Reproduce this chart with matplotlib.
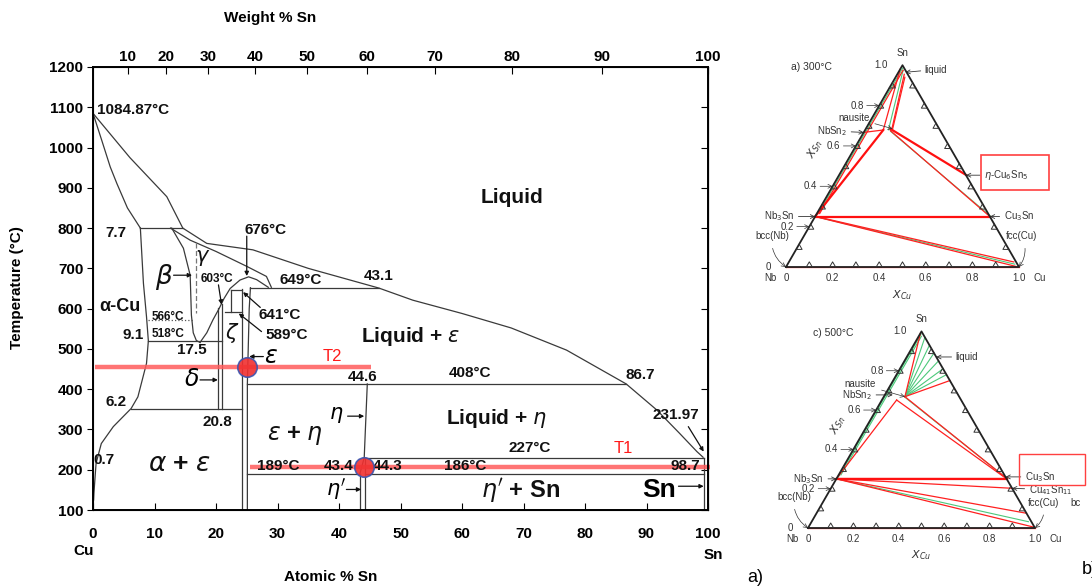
import numpy as np
import matplotlib.pyplot as plt

plt.rcParams['font.family'] = ['Liberation Sans', 'DejaVu Sans']

# ---------------- Cu-Sn phase diagram data (atomic % Sn, temperature in C) ----------------
at_ticks = [0, 10, 20, 30, 40, 50, 60, 70, 80, 90, 100]
temp_ticks = [100, 200, 300, 400, 500, 600, 700, 800, 900, 1000, 1100, 1200]
weight_ticks = [10, 20, 30, 40, 50, 60, 70, 80, 90, 100]

liquidus = [(0, 1085), (6, 975), (12, 878), (14.6, 800), (18.5, 762), (26, 746), (35, 700),
            (46.5, 651), (52, 621), (60, 588), (68, 552), (77, 497), (86.7, 413),
            (91.7, 348), (95.4, 290), (98.2, 245), (99.2, 231)]
alpha_solidus = [(0, 1085), (1.4, 1019), (2.8, 952), (3.9, 910), (5.6, 850), (7.7, 800)]
alpha_solvus = [(7.7, 800), (8.2, 663), (8.7, 580), (9.0, 520), (8.7, 464), (7.3, 381),
                (6.2, 352), (3.3, 307), (1.35, 265), (0.5, 216), (0.15, 142), (0.1, 125)]
beta_left = [(12.8, 800), (14.7, 750), (15.8, 683), (16.0, 584), (16.3, 540), (16.8, 521),
             (17.4, 516)]
gamma_dome = [(17.4, 516), (18.5, 540), (19.5, 572), (20.5, 600), (21.3, 625), (22.3, 650),
              (23.9, 671), (25.3, 679), (26.6, 672), (28.5, 653)]
gamma_solidus = [(12.6, 800), (15.8, 770), (20, 742), (25, 705), (28.2, 680), (29.0, 653)]
beta_gamma_dashed = [(16.7, 762), (16.7, 590)]
line_566_dotted = [(9.0, 572), (16.3, 572)]
epsilon_right = [(25.1, 100), (25.1, 413), (25.4, 600), (25.6, 652)]
eta_upper = [(44.6, 413), (44.1, 230), (43.4, 190)]

# horizontal lines (T, x_start, x_end)
isotherms = [(800, 7.7, 14.6), (520, 9.0, 20.9), (350, 6.2, 24.3), (413, 25.1, 86.7),
             (652, 25.6, 46.5), (646, 22.5, 24.3), (592, 21.5, 24.3), (230, 44.3, 99.4),
             (190, 25.1, 43.4), (190, 44.3, 99.4)]
# vertical lines (x, T_start, T_end)
verticals = [(20.4, 350, 601), (20.9, 350, 612), (22.5, 592, 646), (24.3, 100, 648),
             (43.4, 100, 190), (44.3, 100, 230), (99.4, 100, 230)]

# red marker lines / points
t2_line = (455, 0.3, 45.2)
t1_line = (207, 25.5, 100.3)
red_points_x = [25.0, 44.0]
red_points_t = [455, 207]

# labels: (x, T, text, size, style, ha)
number_labels = [
    (0.6, 1093, '1084.87°C', 11, 'normal', 'left'),
    (3.8, 788, '7.7', 11, 'normal', 'center'),
    (28.0, 795, '676°C', 11, 'normal', 'center'),
    (33.7, 671, '649°C', 11, 'normal', 'center'),
    (46.5, 681, '43.1', 11, 'normal', 'center'),
    (20.1, 673, '603°C', 8.5, 'normal', 'center'),
    (9.5, 580, '566°C', 8.5, 'normal', 'left'),
    (9.5, 537, '518°C', 8.5, 'normal', 'left'),
    (26.9, 584, '641°C', 11, 'normal', 'left'),
    (28.0, 535, '589°C', 11, 'normal', 'left'),
    (8.3, 535, '9.1', 11, 'normal', 'right'),
    (16.1, 497, '17.5', 11, 'normal', 'center'),
    (43.8, 431, '44.6', 11, 'normal', 'center'),
    (61.3, 439, '408°C', 11, 'normal', 'center'),
    (89.0, 435, '86.7', 11, 'normal', 'center'),
    (3.8, 369, '6.2', 11, 'normal', 'center'),
    (94.7, 336, '231.97', 11, 'normal', 'center'),
    (20.3, 319, '20.8', 11, 'normal', 'center'),
    (71.0, 253, '227°C', 11, 'normal', 'center'),
    (0.0, 224, '0.7', 11, 'normal', 'left'),
    (30.2, 209, '189°C', 11, 'normal', 'center'),
    (39.9, 209, '43.4', 11, 'normal', 'center'),
    (47.9, 209, '44.3', 11, 'normal', 'center'),
    (60.5, 209, '186°C', 11, 'normal', 'center'),
    (96.3, 209, '98.7', 11, 'normal', 'center'),
]
phase_labels = [
    (68.1, 877, 'Liquid', 15, 'normal'),
    (4.3, 605, 'α-Cu', 13, 'normal'),
    (51.7, 530, 'Liquid + $\\varepsilon$', 15, 'normal'),
    (65.6, 328, 'Liquid + $\\eta$', 15, 'normal'),
    (32.8, 286, '$\\varepsilon$ + $\\eta$', 17, 'normal'),
    (14.0, 214, '$\\alpha$ + $\\varepsilon$', 19, 'normal'),
    (69.5, 149, "$\\eta'$ + Sn", 17, 'normal'),
    (11.6, 679, '$\\beta$', 19, 'normal'),
    (17.9, 725, '$\\gamma$', 15, 'normal'),
    (22.6, 539, '$\\zeta$', 15, 'normal'),
]
# arrow labels: text, text pos, arrow start, arrow end
arrow_labels = [
    ('', (25, 780), (25, 780), (25, 681), 11),
    ('$\\varepsilon$', (29.0, 481), (27.7, 481), (25.4, 481), 17),
    ('$\\delta$', (16.0, 423), (17.4, 423), (20.3, 423), 17),
    ('$\\eta$', (39.6, 336), (41.4, 333), (44.1, 333), 15),
    ("$\\eta'$", (39.5, 152), (41.2, 151), (43.6, 151), 15),
    ('Sn', (92.0, 149), (95.2, 159), (99.3, 159), 19),
    ('', (13.1, 683), (13.1, 683), (16.1, 683), 11),
    ('', (20.4, 659), (20.4, 659), (20.9, 610), 11),
    ('', (27.2, 603), (27.2, 603), (24.4, 641), 11),
    ('', (27.4, 543), (27.4, 543), (23.7, 588), 11),
    ('', (96.8, 307), (96.8, 307), (99.3, 245), 11),
]

# ---------------- Nb-Cu-Sn isothermal sections (x_Cu, x_Sn) ----------------
sec300_red = [
    [(0.0, 0.0), (1.0, 0.0)],
    [(0.0, 0.25), (0.985, 0.003)],
    [(0.005, 0.25), (0.965, 0.025)],
    [(0.015, 0.975), (0.012, 0.265)],
    [(0.0, 0.98), (0.078, 0.679)],
    [(0.03, 0.955), (0.113, 0.682)],
    [(0.04, 0.94), (0.118, 0.676)],
    [(0.0, 0.667), (0.078, 0.679)],
    [(0.11, 0.676), (0.75, 0.25)],
]
sec300_red_thick = [
    [(0.0, 0.25), (0.75, 0.25)],
    [(0.0, 0.25), (0.078, 0.679)],
    [(0.105, 0.685), (0.543, 0.457)],
]
sec300_green = [
    [(0.0, 0.25), (0.975, 0.014)],
    [(0.008, 0.985), (0.006, 0.27)],
    [(0.015, 0.975), (0.1, 0.68)],
    [(0.113, 0.672), (0.75, 0.253)],
]
sec500_red = [
    [(0.0, 0.0), (1.0, 0.0)],
    [(0.0, 0.25), (0.99, 0.005)],
    [(0.0, 0.25), (0.925, 0.075)],
    [(0.0, 0.25), (0.798, 0.202)],
    [(0.0, 0.255), (0.75, 0.255)],
    [(0.0, 0.99), (0.093, 0.668)],
    [(0.065, 0.651), (0.0, 0.25)],
    [(0.065, 0.651), (0.75, 0.25)],
    [(0.093, 0.668), (0.25, 0.75)],
    [(0.093, 0.668), (0.745, 0.255)],
]
sec500_red_thick = [
    [(0.0, 0.25), (0.75, 0.25)],
]
sec500_green = [
    [(0.0, 0.25), (0.955, 0.032)],
    [(0.005, 0.985), (0.004, 0.26)],
    [(0.012, 0.975), (0.01, 0.27)],
    [(0.03, 0.97), (0.093, 0.668)],
    [(0.07, 0.93), (0.093, 0.668)],
    [(0.11, 0.89), (0.093, 0.668)],
    [(0.15, 0.85), (0.093, 0.668)],
    [(0.19, 0.81), (0.093, 0.668)],
    [(0.22, 0.78), (0.093, 0.668)],
    [(0.096, 0.664), (0.75, 0.252)],
]
# phase arrows: text, composition pointed at, offset of text (points), ha
sec300_phases = [
    ('liquid', (0.03, 0.965), (14, 2), 'left'),
    ('NbSn$_2$', (0.0, 0.667), (-12, 1), 'right'),
    ('$\\eta$-Cu$_6$Sn$_5$', (0.545, 0.455), (13, 0), 'left'),
    ('Nb$_3$Sn', (0.0, 0.25), (-15, 0), 'right'),
    ('Cu$_3$Sn', (0.75, 0.25), (10, 0), 'left'),
]
sec500_phases = [
    ('liquid', (0.13, 0.87), (14, 0), 'left'),
    ('NbSn$_2$', (0.035, 0.677), (-15, 0), 'right'),
    ('Nb$_3$Sn', (0.0, 0.25), (-9, 0), 'right'),
    ('Cu$_3$Sn', (0.74, 0.26), (14, 0), 'left'),
    ('Cu$_{41}$Sn$_{11}$', (0.798, 0.202), (12, -1), 'left'),
]
tern_ticks = [0.0, 0.2, 0.4, 0.6, 0.8, 1.0]


def wt_to_at(w):
    a = w / 118.71
    b = (100 - w) / 63.546
    return 100 * a / (a + b)


def tern_xy(pts):
    pts = np.array(pts, dtype=float)
    return pts[:, 0] + pts[:, 1] / 2, pts[:, 1] * np.sqrt(3) / 2


W, H = 1092, 587
fig = plt.figure(figsize=(W / 100, H / 100), dpi=100)


def fbox(x0, y0, x1, y1):
    return [x0 / W, 1 - y1 / H, (x1 - x0) / W, (y1 - y0) / H]


ax = fig.add_axes(fbox(93, 67, 708, 510))
ax.set_xlim(0, 100)
ax.set_ylim(100, 1200)
lc = '#3a3a3a'

for pts in [liquidus, alpha_solidus, alpha_solvus, beta_left, gamma_dome, gamma_solidus,
            epsilon_right, eta_upper]:
    xs, ts = zip(*pts)
    ax.plot(xs, ts, color=lc, lw=0.9)
for t, x0, x1 in isotherms:
    ax.plot([x0, x1], [t, t], color=lc, lw=0.9)
for x, t0, t1 in verticals:
    ax.plot([x, x], [t0, t1], color=lc, lw=0.9)
xs, ts = zip(*beta_gamma_dashed)
ax.plot(xs, ts, color='#777777', lw=0.9, ls=(0, (4, 2)))
xs, ts = zip(*line_566_dotted)
ax.plot(xs, ts, color='#555555', lw=0.9, ls=':')

for t, x0, x1 in [t2_line, t1_line]:
    ax.plot([x0, x1], [t, t], color='#ff5c5c', lw=3.2, alpha=0.85, solid_capstyle='butt',
            clip_on=False)
ax.plot(red_points_x, red_points_t, 'o', ms=14, mfc='#f03030', mec='#3c55b0', mew=1.2,
        alpha=0.9, zorder=5)
ax.text(39, 481, 'T2', color='#ff1a1a', fontsize=12, ha='center', va='center')
ax.text(86.2, 253, 'T1', color='#ff1a1a', fontsize=12, ha='center', va='center')

for x, t, s, fs, st, ha in number_labels:
    ax.text(x, t, s, fontsize=fs, fontweight='bold', ha=ha, va='center', color='#111111')
for x, t, s, fs, st in phase_labels:
    ax.text(x, t, s, fontsize=fs, fontweight='bold', ha='center', va='center', color='#111111')
for s, tp, a0, a1, fs in arrow_labels:
    if s:
        ax.text(tp[0], tp[1], s, fontsize=fs, fontweight='bold', ha='center', va='center')
    ax.annotate('', xy=a1, xytext=a0,
                arrowprops=dict(arrowstyle='-|>', lw=0.9, color='#111111', mutation_scale=6,
                                shrinkA=0, shrinkB=0))

ax.set_xticks(at_ticks)
ax.set_yticks(temp_ticks)
ax.set_xticklabels([str(v) for v in at_ticks], fontsize=11, fontweight='bold')
ax.set_yticklabels([str(v) for v in temp_ticks], fontsize=11, fontweight='bold')
ax.tick_params(axis='x', direction='in', length=5, pad=12)
ax.tick_params(axis='y', direction='out', length=4, pad=3)
for sp in ax.spines.values():
    sp.set_linewidth(1.4)
ax2 = ax.twiny()
ax2.set_xlim(0, 100)
ax2.set_xticks([wt_to_at(w) for w in weight_ticks])
ax2.set_xticklabels([str(w) for w in weight_ticks], fontsize=11, fontweight='bold')
ax2.tick_params(axis='x', direction='in', length=5, pad=2)
axr = ax.secondary_yaxis('right')
axr.set_yticks(temp_ticks)
axr.set_yticklabels([])
axr.tick_params(direction='in', length=5)

fig.text(270 / W, 1 - 18 / H, 'Weight % Sn', fontsize=11, fontweight='bold', ha='center', va='center')
fig.text(331 / W, 1 - 577 / H, 'Atomic % Sn', fontsize=11, fontweight='bold', ha='center', va='center')
fig.text(17 / W, 1 - 288 / H, 'Temperature (°C)', fontsize=11, fontweight='bold', ha='center',
         va='center', rotation=90)
fig.text(84 / W, 1 - 551 / H, 'Cu', fontsize=11, fontweight='bold', ha='center', va='center')
fig.text(713 / W, 1 - 555 / H, 'Sn', fontsize=11, fontweight='bold', ha='center', va='center')


# ---------------- ternary sections ----------------
def draw_section(tax, red, red_thick, green, phases, title, xsn_pos, fcc_off):
    tax.axis('off')
    tri = [(0, 0), (1, 0), (0, 1), (0, 0)]
    x, y = tern_xy(tri)
    tax.plot(x, y, color='#222222', lw=1.3, zorder=4)
    for seg in green:
        x, y = tern_xy(seg)
        tax.plot(x, y, color='#4cc87a', lw=0.8, zorder=2)
    for seg in red:
        x, y = tern_xy(seg)
        tax.plot(x, y, color='#ff2020', lw=0.9, zorder=3)
    for seg in red_thick:
        x, y = tern_xy(seg)
        tax.plot(x, y, color='#ff1010', lw=1.6, zorder=3)
    # chevron ticks along the three edges
    s3 = np.sqrt(3) / 2
    edges = [((0, 0), (1, 0)), ((1, 0), (0.5, s3)), ((0.5, s3), (0, 0))]
    for p0, p1 in edges:
        p0 = np.array(p0)
        p1 = np.array(p1)
        d = (p1 - p0)
        n = np.array([-d[1], d[0]])
        for f in np.arange(0.1, 1.0, 0.1):
            p = p0 + f * d
            c = np.array([p - 0.013 * d, p + 0.022 * n, p + 0.013 * d])
            tax.plot(c[:, 0], c[:, 1], color='#333333', lw=0.7, zorder=4)
    fs = 7
    for v in tern_ticks:
        lab = '{:g}'.format(v) if v != 1.0 else '1.0'
        x, y = tern_xy([(v, 0)])
        tax.annotate(lab, xy=(x[0], y[0]), xytext=(0, -8), textcoords='offset points',
                     ha='center', va='center', fontsize=fs, color='#333333')
        x, y = tern_xy([(0, v)])
        tax.annotate(lab, xy=(x[0], y[0]), xytext=(-11, 0), textcoords='offset points',
                     ha='right', va='center', fontsize=fs, color='#333333',
                     arrowprops=dict(arrowstyle='->', lw=0.5, color='#333333',
                                     shrinkA=0, shrinkB=0) if 0 < v < 1 else None)
    x, y = tern_xy([(0, 0), (1, 0), (0, 1)])
    tax.annotate('Nb', xy=(x[0], y[0]), xytext=(-11, -8), textcoords='offset points',
                 ha='center', va='center', fontsize=fs, color='#333333')
    tax.annotate('Cu', xy=(x[1], y[1]), xytext=(15, -8), textcoords='offset points',
                 ha='center', va='center', fontsize=fs, color='#333333')
    tax.annotate('Sn', xy=(x[2], y[2]), xytext=(0, 9), textcoords='offset points',
                 ha='center', va='center', fontsize=fs, color='#333333')
    tax.text(0.5, -0.12, '$X_{Cu}$', fontsize=8, ha='center', va='center', color='#333333')
    tax.text(xsn_pos[0], xsn_pos[1], '$X_{Sn}$', fontsize=8, ha='center', va='center',
             color='#333333', rotation=60)
    tax.text(0.02, 0.86, title, fontsize=7.5, ha='left', va='center', color='#333333')
    for s, comp, off, ha in phases:
        x, y = tern_xy([comp])
        tax.annotate(s, xy=(x[0], y[0]), xytext=off, textcoords='offset points', ha=ha,
                     va='center', fontsize=fs, color='#333333',
                     arrowprops=dict(arrowstyle='->', lw=0.6, color='#333333',
                                     shrinkA=1, shrinkB=0))
    x, y = tern_xy([(0, 0.0), (1, 0)])
    tax.annotate('bcc(Nb)', xy=(x[0], y[0]), xytext=(-10, 22), textcoords='offset points',
                 ha='center', va='center', fontsize=fs, color='#333333',
                 arrowprops=dict(arrowstyle='->', lw=0.5, color='#333333',
                                 connectionstyle='arc3,rad=0.3', shrinkA=3, shrinkB=0))
    tax.annotate('fcc(Cu)', xy=(x[1], y[1]), xytext=fcc_off, textcoords='offset points',
                 ha='center', va='center', fontsize=fs, color='#333333',
                 arrowprops=dict(arrowstyle='->', lw=0.5, color='#333333',
                                 connectionstyle='arc3,rad=-0.3', shrinkA=3, shrinkB=0))


tax1 = fig.add_axes(fbox(740, 40, 1092, 290))
tax1.set_xlim((740 - 786) / 233, (1092 - 786) / 233)
tax1.set_ylim((267 - 290) / 233, (267 - 40) / 233)
draw_section(tax1, sec300_red, sec300_red_thick, sec300_green, sec300_phases, 'a) 300°C',
             (0.125, 0.505), (2, 22))
x, y = tern_xy([(0.115, 0.685)])
tax1.annotate('nausite', xy=(x[0], y[0]), xytext=(-28, 8), textcoords='offset points',
              ha='center', va='center', fontsize=7, color='#333333',
              arrowprops=dict(arrowstyle='->', lw=0.5, color='#333333', shrinkA=2, shrinkB=0))

tax2 = fig.add_axes(fbox(740, 300, 1092, 560))
tax2.set_xlim((740 - 808) / 227, (1092 - 808) / 227)
tax2.set_ylim((528 - 560) / 227, (528 - 300) / 227)
draw_section(tax2, sec500_red, sec500_red_thick, sec500_green, sec500_phases, 'c) 500°C',
             (0.13, 0.455), (6, 18))
x, y = tern_xy([(0.093, 0.668)])
tax2.annotate('nausite', xy=(x[0], y[0]), xytext=(-32, 9), textcoords='offset points',
              ha='center', va='center', fontsize=7, color='#333333',
              arrowprops=dict(arrowstyle='->', lw=0.5, color='#333333', shrinkA=2, shrinkB=0))
tax2.text(1.18, 0.11, 'bc', fontsize=7, ha='center', va='center', color='#333333')

# red highlight boxes around the Cu-Sn phases
fig.patches.append(plt.Rectangle((981 / W, 1 - 190 / H), 68 / W, 35 / H, fill=False,
                                 edgecolor='#ff4040', lw=1.2, transform=fig.transFigure))
fig.patches.append(plt.Rectangle((1019 / W, 1 - 485 / H), 66 / W, 31 / H, fill=False,
                                 edgecolor='#ff4040', lw=1.0, transform=fig.transFigure))

fig.text(755 / W, 1 - 577 / H, 'a)', fontsize=13, ha='center', va='center')
fig.text(1082 / W, 1 - 569 / H, 'b)', fontsize=13, ha='left', va='center')

fig.savefig('out.png', dpi=100)
